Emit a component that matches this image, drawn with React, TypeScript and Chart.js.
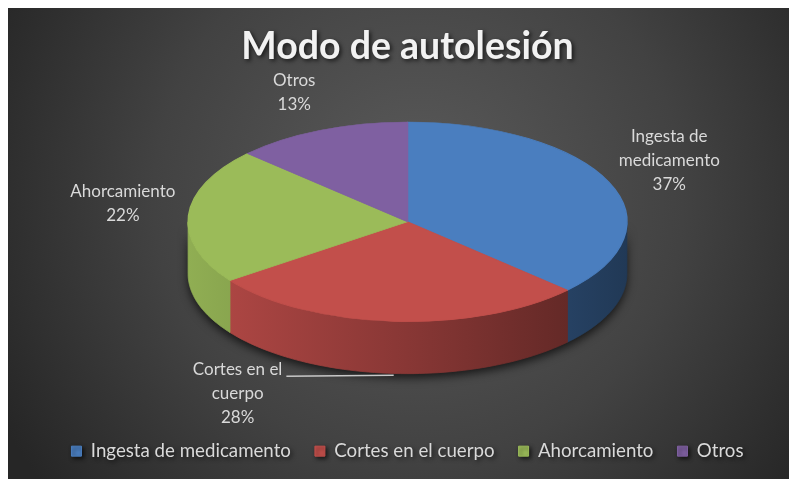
import React, { useEffect, useRef } from "react";
import { Chart, registerables } from "chart.js";

Chart.register(...registerables);

// ---- data ----
const TITLE = "Modo de autolesión";
const CATEGORIES = ["Ingesta de medicamento", "Cortes en el cuerpo", "Ahorcamiento", "Otros"];
const VALUES = [37, 28, 22, 13];
const COLORS = ["#4a7ebf", "#c24f4b", "#9bbb59", "#7f60a1"];

// ---- layout / style ----
const W = 789;
const H = 471;
const FONT = "Lato, 'Open Sans', sans-serif";
const WIDEN = 1.4885; // horizontal stretch of the chart.js circle
const TILT = 0.455; // ry / rx of the projected top face
const DEPTH = 52; // thickness of the 3D side wall
const LABEL_RADIUS = 1.3;
const LABEL_RAISE = 10;
const LABEL_SHIFT_X = [0, -152, 0, 0];
const LABEL_WRAP = 110;
const LABEL_LINE_H = 24;
const TEXT_COLOR = "#d9d9d9";

function shade(hex: string, f: number): string {
  const n = parseInt(hex.slice(1), 16);
  const r = Math.round(((n >> 16) & 255) * f);
  const g = Math.round(((n >> 8) & 255) * f);
  const b = Math.round((n & 255) * f);
  const c = (v: number) => Math.max(0, Math.min(255, v));
  return `rgb(${c(r)},${c(g)},${c(b)})`;
}

function wrap(ctx: CanvasRenderingContext2D, text: string, maxW: number): string[] {
  const words = text.split(" ");
  const lines: string[] = [];
  let cur = "";
  for (const w of words) {
    const t = cur ? cur + " " + w : w;
    if (cur && ctx.measureText(t).width > maxW) {
      lines.push(cur);
      cur = w;
    } else cur = t;
  }
  if (cur) lines.push(cur);
  return lines;
}

function geometry(chart: any) {
  const meta = chart.getDatasetMeta(0);
  const arc = meta.data[0];
  const R = arc.outerRadius;
  const rx = R * WIDEN;
  const ry = rx * TILT;
  return { meta, R, ox: arc.x, oy: arc.y, cx: arc.x, cy: chart.chartArea.top + ry, rx, ry };
}

function sidePath(ctx: CanvasRenderingContext2D, cx: number, cy: number, rx: number, ry: number, lo: number, hi: number) {
  const N = 60;
  ctx.beginPath();
  for (let j = 0; j <= N; j++) {
    const t = lo + ((hi - lo) * j) / N;
    const x = cx + rx * Math.cos(t);
    const y = cy + ry * Math.sin(t);
    if (j === 0) ctx.moveTo(x, y);
    else ctx.lineTo(x, y);
  }
  for (let j = N; j >= 0; j--) {
    const t = lo + ((hi - lo) * j) / N;
    ctx.lineTo(cx + rx * Math.cos(t), cy + ry * Math.sin(t) + DEPTH);
  }
  ctx.closePath();
}

const pie3d = {
  id: "pie3d",
  beforeDraw(chart: any) {
    const { ctx, width, height } = chart;
    ctx.save();
    const g = ctx.createRadialGradient(width * 0.52, height * 0.4, 10, width * 0.52, height * 0.4, width * 0.6);
    g.addColorStop(0, "#5a5a5a");
    g.addColorStop(0.55, "#424242");
    g.addColorStop(1, "#262626");
    ctx.fillStyle = g;
    ctx.fillRect(0, 0, width, height);
    ctx.restore();
    ctx.shadowColor = "rgba(0,0,0,0.65)";
    ctx.shadowBlur = 4;
    ctx.shadowOffsetX = 2;
    ctx.shadowOffsetY = 2;
  },
  beforeDatasetsDraw(chart: any) {
    const { ctx } = chart;
    ctx.shadowColor = "rgba(0,0,0,0)";
    ctx.shadowBlur = 0;
    ctx.shadowOffsetX = 0;
    ctx.shadowOffsetY = 0;
    const { meta, R, ox, oy, cx, cy, rx, ry } = geometry(chart);
    // soft shadow under the front wall
    ctx.save();
    sidePath(ctx, cx, cy, rx, ry, 0, Math.PI);
    ctx.shadowColor = "rgba(0,0,0,0.7)";
    ctx.shadowBlur = 10;
    ctx.shadowOffsetY = 4;
    ctx.fillStyle = "#222";
    ctx.fill();
    ctx.restore();
    // side walls (front half only)
    meta.data.forEach((arc: any, i: number) => {
      const { startAngle, endAngle } = arc.getProps(["startAngle", "endAngle"], true);
      for (const k of [-1, 0, 1]) {
        const lo = Math.max(startAngle, k * 2 * Math.PI);
        const hi = Math.min(endAngle, k * 2 * Math.PI + Math.PI);
        if (hi <= lo) continue;
        sidePath(ctx, cx, cy, rx, ry, lo, hi);
        const g = ctx.createLinearGradient(cx - rx, 0, cx + rx, 0);
        g.addColorStop(0, shade(COLORS[i], 0.93));
        g.addColorStop(0.5, shade(COLORS[i], 0.7));
        g.addColorStop(1, shade(COLORS[i], 0.45));
        ctx.fillStyle = g;
        ctx.fill();
        ctx.strokeStyle = g;
        ctx.lineWidth = 0.8;
        ctx.stroke();
      }
    });
    // project the chart.js circle onto the tilted ellipse
    ctx.save();
    ctx.translate(cx, cy);
    ctx.scale(rx / R, ry / R);
    ctx.translate(-ox, -oy);
  },
  afterDatasetsDraw(chart: any) {
    const { ctx } = chart;
    ctx.restore();
    const { meta, cx, cy, rx, ry } = geometry(chart);
    const total = VALUES.reduce((a, b) => a + b, 0);
    ctx.save();
    ctx.font = `17px ${FONT}`;
    ctx.fillStyle = TEXT_COLOR;
    ctx.textAlign = "center";
    ctx.textBaseline = "middle";
    meta.data.forEach((arc: any, i: number) => {
      const { startAngle, endAngle } = arc.getProps(["startAngle", "endAngle"], true);
      const mid = (startAngle + endAngle) / 2;
      const c = Math.cos(mid);
      const s = Math.sin(mid);
      const lx = cx + rx * LABEL_RADIUS * c + LABEL_SHIFT_X[i];
      const ly = cy + ry * LABEL_RADIUS * s + (s > 0 ? DEPTH : 0) - LABEL_RAISE;
      const lines = wrap(ctx, CATEGORIES[i], LABEL_WRAP);
      lines.push(Math.round((VALUES[i] / total) * 100) + "%");
      const top = ly - ((lines.length - 1) * LABEL_LINE_H) / 2;
      lines.forEach((ln, j) => ctx.fillText(ln, lx, top + j * LABEL_LINE_H));
      if (LABEL_SHIFT_X[i] !== 0) {
        const w0 = ctx.measureText(lines[0]).width;
        const px = cx + rx * c;
        ctx.beginPath();
        ctx.moveTo(lx + w0 / 2 + 4, top + 7);
        ctx.lineTo(px, top + 6);
        ctx.strokeStyle = "#c8c8c8";
        ctx.lineWidth = 1.5;
        ctx.stroke();
      }
    });
    ctx.restore();
  },
};

export default function App() {
  const ref = useRef<HTMLCanvasElement | null>(null);
  useEffect(() => {
    if (!ref.current) return;
    const chart = new Chart(ref.current, {
      type: "pie",
      data: {
        labels: CATEGORIES,
        datasets: [
          {
            data: VALUES,
            backgroundColor: COLORS,
            borderColor: COLORS,
            borderWidth: 1,
            clip: false as any,
          },
        ],
      },
      options: {
        responsive: false,
        animation: false,
        layout: { padding: { left: 10, right: 0, top: 0, bottom: 8.5 } },
        plugins: {
          title: {
            display: true,
            text: TITLE,
            color: "#f2f2f2",
            font: { family: FONT, size: 37.5, weight: "bold", lineHeight: 1.2 },
            padding: { top: 16.5, bottom: 52.5 },
          },
          legend: {
            display: true,
            position: "bottom",
            labels: {
              color: TEXT_COLOR,
              font: { family: FONT, size: 18.7 },
              boxWidth: 10,
              boxHeight: 10,
              padding: 24,
            },
          },
          tooltip: { enabled: false },
        },
      },
      plugins: [pie3d],
    });
    return () => chart.destroy();
  }, []);
  return <canvas ref={ref} width={W} height={H} style={{ display: "block" }} />;
}
